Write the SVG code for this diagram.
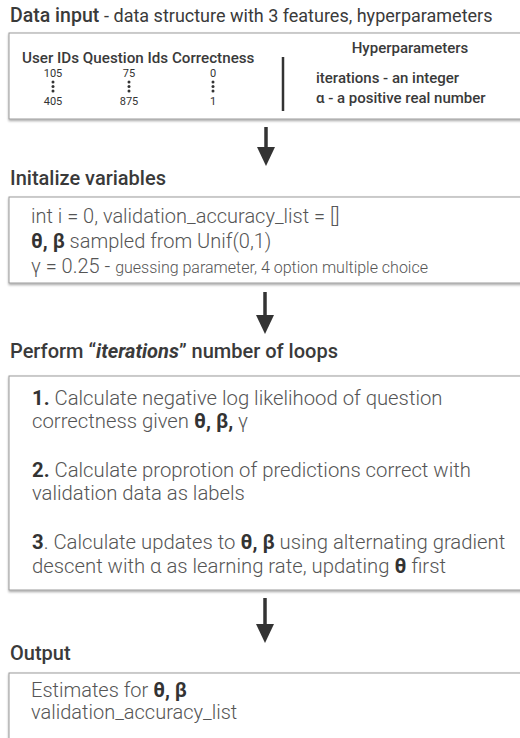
<svg xmlns="http://www.w3.org/2000/svg" width="520" height="738" viewBox="0 0 520 738">
<defs>
<style>
text{font-family:Roboto,"Liberation Sans",sans-serif;}
.h{font-size:20px;font-weight:500;fill:#3a3a3a;}
.h1{font-size:19.5px;font-weight:500;fill:#3a3a3a;}
.hs{font-size:18px;font-weight:400;fill:#3a3a3a;}
.box{fill:#fff;stroke:#9a9a9a;stroke-width:1;filter:url(#sh);}
.col{font-size:15.2px;font-weight:500;fill:#3a3a3a;}
.num{font-size:11px;fill:#333;text-anchor:middle;}
.hp{font-size:15px;font-weight:500;fill:#3a3a3a;}
.b{font-size:20px;font-weight:300;fill:#555;}
.l{font-size:20.3px;font-weight:300;fill:#555;}
.o{font-size:20px;font-weight:300;fill:#555;}
.bold{font-weight:700;fill:#333;}
.dot{fill:#333;}
.arr{stroke:#333;stroke-width:3.5;fill:none;}
.head{fill:#333;}
</style>
<filter id="sh" x="-5%" y="-10%" width="110%" height="130%">
<feDropShadow dx="0" dy="1.5" stdDeviation="1.2" flood-color="#000" flood-opacity="0.35"/>
</filter>
</defs>

<g id="input">
<text x="10" y="22" class="h1">Data input <tspan class="hs">- data structure with 3 features, hyperparameters</tspan></text>
<rect class="box" x="9" y="33" width="530" height="86"/>
<text x="22" y="63" class="col">User IDs Question Ids Correctness</text>
<text x="53" y="77" class="num">105</text>
<text x="129" y="77" class="num">75</text>
<text x="213" y="77" class="num">0</text>
<g class="dot">
<circle cx="53" cy="82" r="1.5"/><circle cx="53" cy="86.5" r="1.5"/><circle cx="53" cy="91" r="1.5"/>
<circle cx="129" cy="82" r="1.5"/><circle cx="129" cy="86.5" r="1.5"/><circle cx="129" cy="91" r="1.5"/>
<circle cx="213" cy="82" r="1.5"/><circle cx="213" cy="86.5" r="1.5"/><circle cx="213" cy="91" r="1.5"/>
</g>
<text x="53" y="105" class="num">405</text>
<text x="129" y="105" class="num">875</text>
<text x="213" y="105" class="num">1</text>
<line x1="283" y1="57" x2="283" y2="111" stroke="#333" stroke-width="2.5"/>
<text x="410" y="53" class="hp" text-anchor="middle">Hyperparameters</text>
<text x="316" y="83" class="hp">iterations - an integer</text>
<text x="316" y="103" class="hp">α - a positive real number</text>
</g>

<g id="init">
<text x="10" y="185" class="h">Initalize variables</text>
<rect class="box" x="9" y="197" width="530" height="86"/>
<text x="31" y="223" class="b">int i = 0, validation_accuracy_list = []</text>
<text x="31" y="248" class="b"><tspan class="bold">θ, β</tspan> sampled from Unif(0,1)</text>
<text x="31" y="273" class="b">γ = 0.25 - <tspan style="font-size:16px">guessing parameter, 4 option multiple choice</tspan></text>
</g>

<g id="loop">
<text x="10" y="358" class="h">Perform “<tspan font-style="italic" font-weight="700">iterations</tspan>” number of loops</text>
<rect class="box" x="9" y="376" width="530" height="214"/>
<text x="32" y="405" class="l"><tspan class="bold">1.</tspan> Calculate negative log likelihood of question</text>
<text x="32" y="428" class="l">correctness given <tspan class="bold">θ, β,</tspan> γ</text>
<text x="32" y="477" class="l"><tspan class="bold">2.</tspan> Calculate proprotion of predictions correct with</text>
<text x="32" y="500" class="l">validation data as labels</text>
<text x="32" y="549" class="l"><tspan class="bold">3</tspan>. Calculate updates to <tspan class="bold">θ, β</tspan> using alternating gradient</text>
<text x="32" y="573" class="l">descent with α as learning rate, updating <tspan class="bold">θ</tspan> first</text>
</g>

<g id="output">
<text x="10" y="660" class="h">Output</text>
<rect class="box" x="9" y="673" width="530" height="90"/>
<text x="31" y="697" class="o">Estimates for <tspan class="bold">θ, β</tspan></text>
<text x="31" y="719" class="o">validation_accuracy_list</text>
</g>

<g id="connectors">
<line class="arr" x1="266" y1="127" x2="266" y2="150"/>
<polygon class="head" points="257,147 275,147 266,166"/>
<line class="arr" x1="265" y1="292" x2="265" y2="318"/>
<polygon class="head" points="256,315 274,315 265,334"/>
<line class="arr" x1="265" y1="598" x2="265" y2="627"/>
<polygon class="head" points="256,624 274,624 265,643"/>
</g>
</svg>
